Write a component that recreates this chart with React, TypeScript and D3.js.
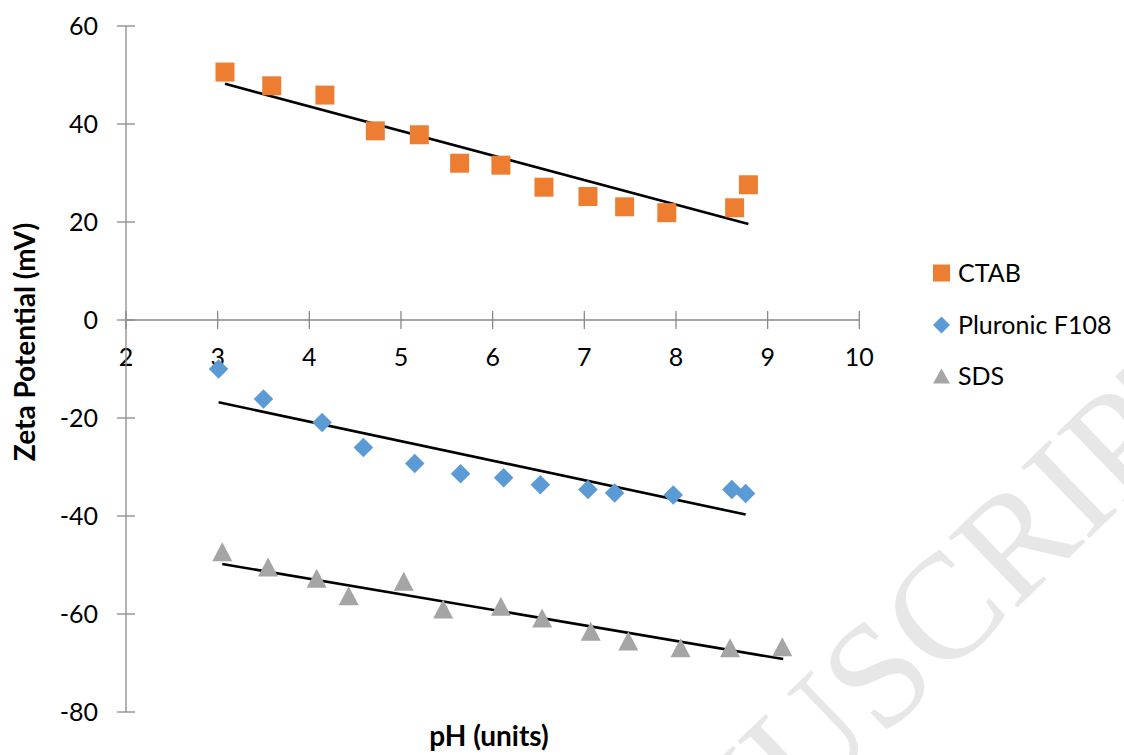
import { useEffect, useRef } from "react";
import * as d3 from "d3";

// pH values and zeta potentials (mV)
const phCtab = [3.08, 3.59, 4.17, 4.72, 5.2, 5.64, 6.09, 6.56, 7.04, 7.44, 7.9, 8.64, 8.79];
const zetaCtab = [50.6, 47.8, 45.9, 38.6, 37.8, 32.0, 31.6, 27.1, 25.2, 23.1, 21.9, 22.9, 27.6];

const phF108 = [3.01, 3.5, 4.14, 4.59, 5.15, 5.65, 6.12, 6.52, 7.04, 7.33, 7.97, 8.61, 8.76];
const zetaF108 = [-10.0, -16.1, -20.9, -26.0, -29.3, -31.4, -32.2, -33.6, -34.6, -35.3, -35.7, -34.6, -35.4];

const phSds = [3.05, 3.55, 4.08, 4.43, 5.03, 5.46, 6.09, 6.54, 7.07, 7.48, 8.05, 8.59, 9.16];
const zetaSds = [-47.3, -50.4, -52.7, -56.3, -53.3, -59.0, -58.4, -60.8, -63.5, -65.5, -66.9, -66.9, -66.7];

// linear trend line end points [pH, zeta]
const trendCtab = [[3.08, 48.2], [8.79, 19.6]];
const trendF108 = [[3.01, -16.8], [8.76, -39.7]];
const trendSds = [[3.05, -49.8], [9.17, -69.2]];

const xTicks = [2, 3, 4, 5, 6, 7, 8, 9, 10];
const yTicks = [60, 40, 20, 0, -20, -40, -60, -80];

const seriesNames = ["CTAB", "Pluronic F108", "SDS"];

const FONT = "Lato, 'Open Sans', sans-serif";

export default function App() {
    const svgRef = useRef<SVGSVGElement | null>(null);

    useEffect(() => {
        if (!svgRef.current) return;
        d3.select(svgRef.current).selectAll("*").remove();

        const width = 1124;
        const height = 755;
        const svg = d3.select(svgRef.current).attr("width", width).attr("height", height);

        const x = d3.scaleLinear().domain([2, 10]).range([126, 859.3]);
        const y = d3.scaleLinear().domain([-80, 60]).range([712, 26]);

        // watermark, pinned on the "S" of MANUSCRIPT
        const wmSize = 150;
        const wm = svg.append("g").attr("transform", "translate(877,674) rotate(-44)");
        const wmText = (txt: string, anchor: string) =>
            wm.append("text")
                .attr("x", -0.278 * wmSize)
                .attr("y", 0.331 * wmSize)
                .attr("text-anchor", anchor)
                .attr("font-family", "'Liberation Serif', 'Times New Roman', serif")
                .attr("font-size", wmSize)
                .attr("fill", "#e7e7e7")
                .text(txt);
        wmText("ACCEPTED MANU", "end");
        wmText("SCRIPT", "start");

        const axisColor = "#898989";

        // x axis (crosses at y = 0)
        const y0 = y(0);
        svg.append("line")
            .attr("x1", x(2)).attr("x2", x(10))
            .attr("y1", y0).attr("y2", y0)
            .attr("stroke", axisColor).attr("stroke-width", 1.3);
        svg.selectAll(".xtick")
            .data(xTicks)
            .enter()
            .append("line")
            .attr("x1", (d) => x(d)).attr("x2", (d) => x(d))
            .attr("y1", y0 - 9).attr("y2", y0 + 9)
            .attr("stroke", axisColor).attr("stroke-width", 1.3);
        svg.selectAll(".xlabel")
            .data(xTicks)
            .enter()
            .append("text")
            .attr("x", (d) => x(d))
            .attr("y", y0 + 46)
            .attr("text-anchor", "middle")
            .attr("font-family", FONT)
            .attr("font-size", 25)
            .attr("fill", "#000")
            .text((d) => d);

        // y axis
        svg.append("line")
            .attr("x1", x(2)).attr("x2", x(2))
            .attr("y1", y(60)).attr("y2", y(-80))
            .attr("stroke", axisColor).attr("stroke-width", 1.3);
        svg.selectAll(".ytick")
            .data(yTicks)
            .enter()
            .append("line")
            .attr("x1", x(2) - 9).attr("x2", x(2) + 9)
            .attr("y1", (d) => y(d)).attr("y2", (d) => y(d))
            .attr("stroke", axisColor).attr("stroke-width", 1.3);
        svg.selectAll(".ylabel")
            .data(yTicks)
            .enter()
            .append("text")
            .attr("x", 98)
            .attr("y", (d) => y(d) + 9)
            .attr("text-anchor", "end")
            .attr("font-family", FONT)
            .attr("font-size", 25)
            .attr("fill", "#000")
            .text((d) => d);

        // axis titles
        svg.append("text")
            .attr("transform", "translate(35,342) rotate(-90)")
            .attr("text-anchor", "middle")
            .attr("font-family", FONT)
            .attr("font-weight", "bold")
            .attr("font-size", 28)
            .text("Zeta Potential (mV)");
        svg.append("text")
            .attr("x", 489)
            .attr("y", 746)
            .attr("text-anchor", "middle")
            .attr("font-family", FONT)
            .attr("font-weight", "bold")
            .attr("font-size", 28)
            .text("pH (units)");

        // trend lines
        const line = d3.line<number[]>().x((d) => x(d[0])).y((d) => y(d[1]));
        [trendCtab, trendF108, trendSds].forEach((t) => {
            svg.append("path")
                .attr("d", line(t))
                .attr("fill", "none")
                .attr("stroke", "#000")
                .attr("stroke-width", 2.6);
        });

        const square = d3.symbol().type(d3.symbolSquare).size(19 * 19);
        const diamond = d3.symbol().type(d3.symbolSquare).size(13.8 * 13.8);
        const triPath = (w: number, h: number) =>
            `M0,${-h / 2}L${w / 2},${h / 2}L${-w / 2},${h / 2}Z`;

        // CTAB squares
        svg.selectAll(".ctab")
            .data(phCtab.map((p, i) => [p, zetaCtab[i]]))
            .enter()
            .append("path")
            .attr("d", square())
            .attr("transform", (d) => `translate(${x(d[0])},${y(d[1])})`)
            .attr("fill", "#ED7D31");

        // Pluronic F108 diamonds
        svg.selectAll(".f108")
            .data(phF108.map((p, i) => [p, zetaF108[i]]))
            .enter()
            .append("path")
            .attr("d", diamond())
            .attr("transform", (d) => `translate(${x(d[0])},${y(d[1])}) rotate(45)`)
            .attr("fill", "#5B9BD5");

        // SDS triangles
        svg.selectAll(".sds")
            .data(phSds.map((p, i) => [p, zetaSds[i]]))
            .enter()
            .append("path")
            .attr("d", triPath(20, 19))
            .attr("transform", (d) => `translate(${x(d[0])},${y(d[1])})`)
            .attr("fill", "#A5A5A5");

        // legend
        const legendY = [273, 325, 376];
        const legend = svg.append("g");
        legend.append("path")
            .attr("d", d3.symbol().type(d3.symbolSquare).size(17 * 17)())
            .attr("transform", `translate(941.5,${legendY[0]})`)
            .attr("fill", "#ED7D31");
        legend.append("path")
            .attr("d", d3.symbol().type(d3.symbolSquare).size(12 * 12)())
            .attr("transform", `translate(941.5,${legendY[1]}) rotate(45)`)
            .attr("fill", "#5B9BD5");
        legend.append("path")
            .attr("d", triPath(17, 15))
            .attr("transform", `translate(941.5,${legendY[2]})`)
            .attr("fill", "#A5A5A5");
        legend.selectAll(".ltext")
            .data(seriesNames)
            .enter()
            .append("text")
            .attr("x", 958)
            .attr("y", (_, i) => legendY[i] + 9)
            .attr("font-family", FONT)
            .attr("font-size", 25)
            .attr("fill", "#000")
            .text((d) => d);
    }, []);

    return (
        <svg
            ref={svgRef}
            style={{ position: "absolute", left: 0, top: 0, display: "block", background: "#fff" }}
        />
    );
}
